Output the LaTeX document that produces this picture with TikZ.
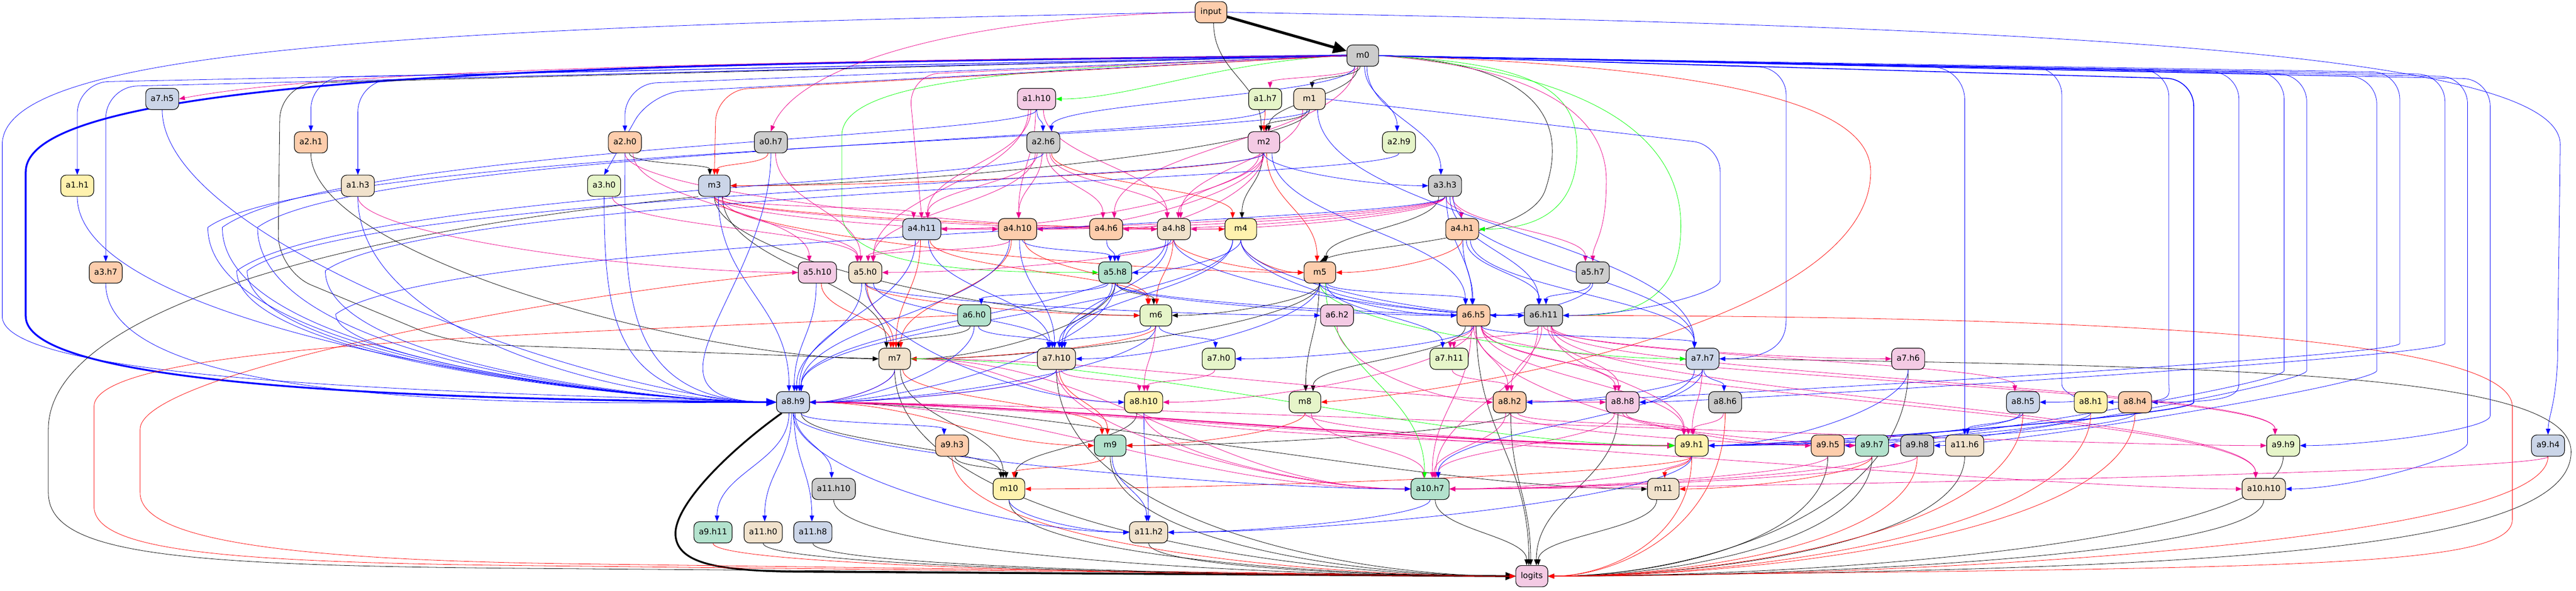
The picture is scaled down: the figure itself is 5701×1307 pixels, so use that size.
\documentclass[tikz,border=0pt]{standalone}
\usepackage{fontspec}
\setmainfont{DejaVu Sans}
\usetikzlibrary{arrows.meta,calc}
\pgfdeclarelayer{bg}
\pgfsetlayers{bg,main}
\definecolor{pOr}{HTML}{FDCDAC}
\definecolor{pGr}{HTML}{B3E2CD}
\definecolor{pBl}{HTML}{CBD5E8}
\definecolor{pPk}{HTML}{F4CAE4}
\definecolor{pLg}{HTML}{E6F5C9}
\definecolor{pYe}{HTML}{FFF2AE}
\definecolor{pTn}{HTML}{F1E2CC}
\definecolor{pGy}{HTML}{CCCCCC}
\tikzset{
  nd/.style={draw=black, line width=1.3pt, rounded corners=12pt, minimum width=70pt, minimum height=47pt, inner xsep=11pt, inner ysep=2pt, text height=13pt, text depth=3.5pt, font=\fontsize{18}{21}\selectfont},
  ea/.style={line width=0.9pt, -{Triangle[length=13pt,width=10pt]}},
  eB/.style={ea, draw=blue},
  eBm/.style={ea, draw=blue, line width=1.8pt},
  eQ/.style={ea, draw=magenta},
  eQt/.style={ea, draw=magenta, line width=2.6pt, -{Triangle[length=17pt,width=13pt]}},
  eG/.style={ea, draw=green},
  eR/.style={ea, draw=red},
  eK/.style={ea, draw=black},
}
\newcommand\Nd[5]{\node[nd,fill=#4] (#1) at (#2,#3) {#5};}
\newcommand\EdN[3]{\draw[#1] let \p1=(#2.south), \p2=(#3.north), \n1={max(25,0.45*(\y1-\y2))}, \n2={max(-18,min(18,0.05*(\x1-\x2)))}, \n3={max(-18,min(18,0.05*(\x2-\x1)))} in (\x1+\n3,\y1) .. controls (\x1+\n3,\y1-\n1) and (\x2+\n2,\y2+\n1) .. (\x2+\n2,\y2);}
\newcommand\EdE[3]{\draw[#1] let \p1=(#2.south), \p2=(#3.west), \n1={max(20,0.5*(\y1-\y2))}, \n2={max(60,min(400,0.35*abs(\x2-\x1)))} in (\p1) .. controls (\x1,\y1-\n1) and (\x2-\n2,\y2) .. (\p2);}
\newcommand\EdW[3]{\draw[#1] let \p1=(#2.south), \p2=(#3.east), \n1={max(20,0.5*(\y1-\y2))}, \n2={max(60,min(400,0.35*abs(\x2-\x1)))} in (\p1) .. controls (\x1,\y1-\n1) and (\x2+\n2,\y2) .. (\p2);}
\newcommand\EdEe[3]{\draw[#1] let \p1=(#2.east), \p2=(#3.west), \n2={max(60,min(500,0.4*abs(\x2-\x1)))} in (\p1) .. controls (\x1+\n2,\y1) and (\x2-\n2,\y2) .. (\p2);}
\newcommand\FanN[5]{\draw[#1,rounded corners=70pt] (#2) -- (#4,#5) -- (#3.north);}
\newcommand\FanE[6]{\draw[#1,rounded corners=60pt] (#2) -- (#4,#5) -- (#4,#6) .. controls (#4,#6+90) and ($(#3.east)+(150,0)$) .. (#3.east);}
\newcommand\IntoW[2]{\draw[#1] (#2.south) .. controls +(0,300) and +(-350,0) .. (a8h9.west);}
\newcommand\IntoWf[3]{\draw[#1] let \p1=(#2.south) in (\p1) .. controls (\x1,\y1-60pt) and (#3pt+250pt,\y1-80pt) .. (#3pt,\y1-260pt) .. controls (#3pt,-800pt) and (1450pt,-890pt) .. (a8h9.west);}
\newcommand\ToLL[2]{\draw[#1] let \p1=(#2.south), \p2=(logits.west), \n1={0.7*(\y1-\y2)}, \n2={0.4*(\x2-\x1)} in (\p1) .. controls (\x1,\y1-\n1) and (\x2-\n2,\y2) .. (\p2);}
\newcommand\ToLR[2]{\draw[#1] let \p1=(#2.south), \p2=(logits.east), \n1={0.7*(\y1-\y2)}, \n2={0.4*(\x1-\x2)} in (\p1) .. controls (\x1,\y1-\n1) and (\x2+\n2,\y2) .. (\p2);}
\begin{document}
\begin{tikzpicture}[x=1pt,y=-1pt]
\begin{pgfonlayer}{bg}\fill[white] (0,0) rectangle (5701,1307);\end{pgfonlayer}
\useasboundingbox (0,0) rectangle (5701,1307);
% ---------------- nodes
\Nd{input}{2680}{27}{pOr}{input}
\Nd{m0}{3016}{123}{pGy}{m0}
\Nd{a7h5}{359}{219}{pBl}{a7.h5}
\Nd{a1h10}{2294}{219}{pPk}{a1.h10}
\Nd{a1h7}{2800}{219}{pLg}{a1.h7}
\Nd{m1}{2898}{219}{pTn}{m1}
\Nd{a2h1}{688}{315}{pOr}{a2.h1}
\Nd{a2h0}{1383}{315}{pOr}{a2.h0}
\Nd{a0h7}{1706}{315}{pGy}{a0.h7}
\Nd{a2h6}{2309}{315}{pGy}{a2.h6}
\Nd{m2}{2797}{315}{pPk}{m2}
\Nd{a2h9}{3096}{315}{pLg}{a2.h9}
\Nd{a1h1}{171}{411}{pYe}{a1.h1}
\Nd{a1h3}{792}{411}{pTn}{a1.h3}
\Nd{a3h0}{1337}{411}{pLg}{a3.h0}
\Nd{m3}{1581}{411}{pBl}{m3}
\Nd{a3h3}{3198}{411}{pGy}{a3.h3}
\Nd{a4h11}{2040}{507}{pBl}{a4.h11}
\Nd{a4h10}{2252}{507}{pOr}{a4.h10}
\Nd{a4h6}{2448}{507}{pOr}{a4.h6}
\Nd{a4h8}{2598}{507}{pTn}{a4.h8}
\Nd{m4}{2746}{507}{pYe}{m4}
\Nd{a4h1}{3236}{507}{pOr}{a4.h1}
\Nd{a3h7}{234}{603}{pOr}{a3.h7}
\Nd{a5h10}{1809}{603}{pPk}{a5.h10}
\Nd{a5h0}{1915}{603}{pTn}{a5.h0}
\Nd{a5h8}{2468}{603}{pGr}{a5.h8}
\Nd{m5}{2921}{603}{pOr}{m5}
\Nd{a5h7}{3525}{603}{pGy}{a5.h7}
\Nd{a6h0}{2156}{698}{pGr}{a6.h0}
\Nd{m6}{2558}{698}{pLg}{m6}
\Nd{a6h2}{2959}{698}{pPk}{a6.h2}
\Nd{a6h5}{3261}{698}{pOr}{a6.h5}
\Nd{a6h11}{3416}{698}{pGy}{a6.h11}
\Nd{m7}{1980}{794}{pTn}{m7}
\Nd{a7h10}{2338}{794}{pTn}{a7.h10}
\Nd{a7h0}{2697}{794}{pLg}{a7.h0}
\Nd{a7h11}{3207}{794}{pLg}{a7.h11}
\Nd{a7h7}{3768}{794}{pBl}{a7.h7}
\Nd{a7h6}{4223}{794}{pPk}{a7.h6}
\Nd{a8h9}{1755}{890}{pBl}{a8.h9}
\Nd{a8h10}{2531}{890}{pYe}{a8.h10}
\Nd{m8}{2888}{890}{pLg}{m8}
\Nd{a8h2}{3341}{890}{pOr}{a8.h2}
\Nd{a8h8}{3591}{890}{pPk}{a8.h8}
\Nd{a8h6}{3818}{890}{pGy}{a8.h6}
\Nd{a8h5}{4477}{890}{pBl}{a8.h5}
\Nd{a8h1}{4627}{890}{pYe}{a8.h1}
\Nd{a8h4}{4725}{890}{pOr}{a8.h4}
\Nd{a9h3}{2107}{986}{pOr}{a9.h3}
\Nd{m9}{2457}{986}{pGr}{m9}
\Nd{a9h1}{3744}{986}{pYe}{a9.h1}
\Nd{a9h5}{4045}{986}{pOr}{a9.h5}
\Nd{a9h7}{4143}{986}{pGr}{a9.h7}
\Nd{a9h8}{4243}{986}{pGy}{a9.h8}
\Nd{a11h6}{4348}{986}{pTn}{a11.h6}
\Nd{a9h9}{5053}{986}{pLg}{a9.h9}
\Nd{a9h4}{5639}{986}{pBl}{a9.h4}
\Nd{a11h10}{1845}{1082}{pGy}{a11.h10}
\Nd{m10}{2233}{1082}{pYe}{m10}
\Nd{a10h7}{3165}{1082}{pGr}{a10.h7}
\Nd{m11}{3681}{1082}{pTn}{m11}
\Nd{a10h10}{5010}{1082}{pTn}{a10.h10}
\Nd{a9h11}{1578}{1178}{pGr}{a9.h11}
\Nd{a11h0}{1689}{1178}{pTn}{a11.h0}
\Nd{a11h8}{1799}{1178}{pBl}{a11.h8}
\Nd{a11h2}{2542}{1178}{pTn}{a11.h2}
\Nd{logits}{3390}{1275}{pPk}{logits}
% ---------------- edges
\begin{pgfonlayer}{bg}
% special long / thick
\draw[eK, line width=6pt, -{Triangle[length=30pt,width=26pt]}] (input) -- (m0);
\draw[eB, line width=4pt, -{Triangle[length=22pt,width=17pt]}] (m0.west) .. controls (1500,140) and (57,150) .. (57,380) -- (57,700) .. controls (57,860) and (1000,885) .. (a8h9.west);
\draw[eK, line width=4pt, -{Triangle[length=22pt,width=17pt]}] ($(a8h9.south)+(-25,0)$) .. controls (1610,1000) and (1490,1120) .. (1495,1185) .. controls (1500,1250) and (1600,1262) .. (1750,1265) -- (logits.west);
\draw[eQ] (input.west) .. controls (2100,40) and (1760,150) .. (a0h7.north);
\draw[eB] (input.west) .. controls (900,60) and (5,110) .. (5,320) -- (5,700) .. controls (5,850) and (1100,870) .. (a8h9.west);
\draw[eB] (input.east) .. controls (4600,60) and (5666,120) .. (5666,320) -- (5660,800) .. controls (5655,900) and (5640,920) .. (a9h4.north);
\draw[eQ] (m0.west) .. controls (1500,135) and (700,160) .. (a7h5.east);
\draw[eG] (m0.west) .. controls (2700,135) and (2500,219) .. (a1h10.east);
\draw[eG] (m0.west) .. controls (2300,150) and (1863,170) .. (1863,300) -- (1863,470) .. controls (1863,600) and (2200,603) .. (a5h8.west);
\draw[eK,rounded corners=80pt] (m0.west) -- (620,185) -- (615,600) -- (1000,760) -- (m7.west);
\draw[eK] (m0.east) .. controls (3450,140) and (3460,300) .. (3420,420) .. controls (3380,540) and (3000,540) .. (m5.north);
\draw[eR] (m0.east) .. controls (3900,150) and (4140,250) .. (4140,380) .. controls (4140,700) and (3300,860) .. (m8.east);
\draw[eG] (m0.east) .. controls (3400,140) and (3490,200) .. (3490,330) .. controls (3490,480) and (3380,507) .. (a4h1.east);
\draw[eG] (m0.east) .. controls (3520,160) and (3720,300) .. (3720,500) .. controls (3720,700) and (3560,698) .. (a6h11.east);
\draw[eQ] (m0.east) .. controls (3400,150) and (3555,250) .. (3555,400) .. controls (3555,520) and (3525,540) .. (a5h7.north);
\draw[eK] (m3.south west) .. controls (700,520) and (107,700) .. (107,950) -- (107,1090) .. controls (107,1230) and (400,1252) .. (1200,1258) -- (logits.west);
\draw[eR] (a6h0.west) .. controls (1200,740) and (208,760) .. (208,900) -- (208,1120) .. controls (208,1220) and (500,1245) .. (1200,1252) -- (logits.west);
\draw[eR] (a5h10.west) .. controls (1300,640) and (310,820) .. (310,950) -- (310,1090) .. controls (310,1190) and (600,1240) .. (1300,1248) -- (logits.west);
\draw[eK] (a7h7.east) .. controls (5000,810) and (5690,830) .. (5690,1000) .. controls (5690,1230) and (4800,1262) .. (logits.east);
\draw[eR] (a6h11.east) .. controls (4600,700) and (5560,740) .. (5560,900) -- (5560,1150) .. controls (5560,1262) and (5000,1255) .. (logits.east);
% m0 fans
\FanN{eB}{m0.west}{a1h1}{171}{182}
\FanN{eB}{m0.west}{a3h7}{234}{192}
\FanN{eB}{m0.west}{a2h1}{688}{172}
\FanN{eB}{m0.west}{a1h3}{792}{178}
\FanN{eB}{m0.west}{a2h0}{1383}{186}
\FanN{eB}{m0.west}{a3h0}{1440}{205}
\FanN{eR}{m0.west}{m3}{1585}{200}
\FanN{eQ}{m0.west}{a4h11}{2010}{165}
\FanE{eB}{m0.east}{a7h7}{3953}{150}{640}
\FanE{eB}{m1.east}{a6h11}{3807}{320}{560}
\FanE{eB}{m0.east}{a8h5}{4563}{150}{790}
\FanE{eB}{m0.east}{a8h1}{4800}{155}{790}
\FanE{eBm}{m0.east}{a9h1}{4855}{175}{830}
\FanE{eB}{m0.east}{a8h4}{4955}{160}{790}
\FanE{eB}{m0.east}{a9h5}{5055}{160}{760}
\FanE{eB}{m0.east}{a9h7}{5105}{165}{760}
\FanE{eB}{m0.east}{a9h8}{5260}{170}{760}
\FanE{eB}{m0.east}{a8h2}{5311}{160}{700}
\FanE{eB}{m0.east}{a8h8}{5411}{165}{700}
\FanE{eB}{m0.east}{a10h10}{5461}{170}{920}
\FanE{eB}{m0.east}{a9h9}{5511}{175}{860}
\FanN{eB}{m0.east}{a11h6}{4348}{150}
% black
\EdN{eK}{input}{m2}
\EdN{eK}{m0}{m2}
\EdN{eK}{m1}{m2}
\EdN{eK}{m0}{m1}
\EdN{eK}{a2h0}{m3}
\EdW{eK}{m1}{m3}
\EdN{eK}{m2}{m4}
\EdN{eK}{a3h3}{m5}
\EdN{eK}{a5h8}{m6}
\EdW{eK}{m5}{m6}
\EdE{eK}{m3}{m6}
\EdN{eK}{a6h0}{m7}
\EdN{eK}{m3}{m7}
\EdW{eK}{m5}{m7}
\EdW{eK}{a5h8}{m7}
\EdE{eK}{a2h1}{m7}
\EdN{eK}{m5}{m8}
\EdN{eK}{a6h5}{m8}
\EdW{eK}{a8h2}{m9}
\EdN{eK}{a8h9}{m10}
\EdN{eK}{a9h3}{m10}
\EdN{eK}{a8h10}{m10}
\EdN{eK}{m7}{m10}
\EdEe{eK}{a8h9}{m11}
\EdN{eK}{a10h7}{logits}
\EdN{eK}{a8h2}{logits}
\EdN{eK}{a8h8}{logits}
\EdN{eK}{m11}{logits}
\EdN{eK}{a6h5}{logits}
\ToLL{eK}{a11h2}
\ToLL{eK}{m9}
\ToLL{eK}{m10}
\ToLL{eK}{a11h10}
\ToLL{eK}{a11h8}
\ToLL{eK}{a11h0}
\ToLL{eK}{a7h10}
\ToLL{eK}{m7}
\ToLR{eK}{a9h5}
\ToLR{eK}{a9h7}
\ToLR{eK}{a11h6}
\ToLR{eK}{a9h9}
\ToLR{eK}{a10h10}
\ToLR{eK}{a7h6}
% red
\EdN{eR}{a1h7}{m2}
\EdN{eR}{a0h7}{m3}
\EdW{eR}{m2}{m3}
\EdN{eR}{a2h6}{m4}
\EdE{eR}{m3}{m4}
\EdE{eR}{m4}{m5}
\EdE{eR}{a4h8}{m5}
\EdN{eR}{m2}{m5}
\EdW{eR}{a4h1}{m5}
\EdE{eR}{m3}{m5}
\EdE{eR}{a5h0}{m6}
\EdN{eR}{a4h10}{m6}
\EdN{eR}{a4h11}{m6}
\EdN{eR}{a4h8}{m6}
\EdN{eR}{a5h10}{m7}
\EdN{eR}{a5h0}{m7}
\EdN{eR}{a4h11}{m7}
\EdN{eR}{a4h10}{m7}
\EdW{eR}{m6}{m7}
\EdN{eR}{a7h10}{m9}
\EdEe{eR}{a8h9}{m9}
\EdN{eR}{m7}{m9}
\EdW{eR}{m8}{m9}
\EdN{eR}{m9}{m10}
\EdW{eR}{a9h1}{m10}
\EdN{eR}{a9h1}{m11}
\EdW{eR}{a9h7}{m11}
\ToLL{eR}{a9h11}
\ToLL{eR}{a9h3}
\ToLR{eR}{a9h1}
\ToLR{eR}{a9h8}
\ToLR{eR}{a9h4}
\ToLR{eR}{a8h5}
\ToLR{eR}{a8h1}
\ToLR{eR}{a8h4}
\ToLR{eR}{a8h6}
% magenta
\EdN{eQ}{m0}{a1h7}
\EdN{eQ}{a1h10}{a4h11}
\EdN{eQ}{a2h6}{a4h11}
\EdW{eQ}{m2}{a4h11}
\EdW{eQ}{a3h3}{a4h11}
\EdN{eQ}{m3}{a4h11}
\EdN{eQ}{a1h10}{a4h10}
\EdN{eQ}{a2h6}{a4h10}
\EdE{eQ}{m3}{a4h10}
\EdW{eQ}{m2}{a4h10}
\EdW{eQ}{a3h3}{a4h10}
\EdN{eQ}{a2h6}{a4h6}
\EdN{eQ}{m0}{a4h6}
\EdW{eQ}{m2}{a4h6}
\EdW{eQ}{a3h3}{a4h6}
\EdN{eQ}{a1h10}{a4h8}
\EdN{eQ}{a2h6}{a4h8}
\EdE{eQ}{m3}{a4h8}
\EdE{eQ}{a2h0}{a4h8}
\EdN{eQ}{m2}{a4h8}
\EdW{eQ}{a3h3}{a4h8}
\EdN{eQ}{m1}{a4h8}
\EdN{eQ}{a3h3}{a4h1}
\EdE{eQ}{a1h3}{a5h10}
\EdN{eQ}{a2h0}{a5h10}
\EdN{eQ}{a0h7}{a5h0}
\EdN{eQ}{a3h0}{a5h0}
\EdN{eQ}{m3}{a5h0}
\EdN{eQ}{a4h11}{a5h0}
\EdN{eQ}{a4h10}{a5h0}
\EdW{eQ}{a4h8}{a5h0}
\EdN{eQ}{a1h10}{a5h0}
\EdN{eQ}{a2h6}{a5h0}
\EdN{eQ}{a3h3}{a5h7}
\EdN{eQ}{a6h5}{a7h11}
\EdN{eQ}{a6h11}{a7h11}
\EdE{eQ}{a6h11}{a7h6}
\EdN{eQ}{a7h10}{a8h10}
\EdN{eQ}{m6}{a8h10}
\EdN{eQ}{a7h0}{a8h10}
\EdW{eQ}{a6h5}{a8h10}
\EdEe{eQ}{m7}{a8h10}
\EdN{eQ}{a7h11}{a8h2}
\EdN{eQ}{a6h5}{a8h2}
\EdN{eQ}{a6h11}{a8h2}
\EdE{eQ}{a6h2}{a8h2}
\EdN{eQ}{a6h5}{a8h8}
\EdN{eQ}{a6h11}{a8h8}
\EdEe{eQ}{m7}{a8h8}
\EdN{eQ}{a6h11}{a8h5}
\EdN{eQ}{a8h2}{a9h1}
\EdN{eQ}{a8h8}{a9h1}
\EdN{eQ}{a8h6}{a9h1}
\EdN{eQ}{a7h7}{a9h1}
\EdN{eQ}{a6h11}{a9h1}
\EdN{eQ}{a6h5}{a9h1}
\EdE{eQ}{m8}{a9h1}
\EdEe{eQt}{a8h9}{a9h1}
\EdE{eQ}{a8h10}{a9h1}
\EdE{eQ}{a6h5}{a9h5}
\EdE{eQ}{a8h2}{a9h7}
\EdE{eQ}{a8h8}{a9h8}
\EdN{eQ}{a6h11}{a9h9}
\EdN{eQ}{a6h5}{a9h9}
\EdEe{eQ}{a8h9}{a9h9}
\EdEe{eQ}{a8h9}{a10h7}
\EdN{eQ}{m8}{a10h7}
\EdN{eQ}{a8h2}{a10h7}
\EdN{eQ}{a8h8}{a10h7}
\EdN{eQ}{a6h5}{a10h7}
\EdN{eQ}{a6h11}{a10h7}
\EdW{eQ}{a9h1}{a10h7}
\EdE{eQ}{a7h10}{a10h7}
\EdEe{eQ}{m7}{a10h7}
\EdE{eQ}{a8h10}{a10h7}
\EdW{eQ}{a9h5}{a10h7}
\EdW{eQ}{a9h7}{a10h7}
\EdW{eQ}{a9h8}{a10h7}
\EdW{eQ}{a9h4}{a10h7}
\EdEe{eQ}{a8h9}{a10h10}
\EdN{eQ}{a6h11}{a10h10}
\EdN{eQ}{a6h5}{a10h10}
\EdW{eQ}{a7h10}{a8h9}
\EdW{eQ}{m7}{a8h9}
% green
\EdE{eG}{m5}{a7h7}
\EdEe{eG}{m7}{a9h1}
\EdN{eG}{m5}{a10h7}
% blue
\EdN{eB}{m0}{a2h6}
\EdN{eB}{m0}{a2h9}
\EdN{eB}{m0}{a3h3}
\EdE{eB}{m2}{a3h3}
\EdN{eB}{a1h10}{a2h6}
\EdN{eB}{a4h10}{a5h8}
\EdN{eB}{a4h8}{a5h8}
\EdW{eB}{m4}{a5h8}
\EdN{eB}{a4h6}{a5h8}
\EdN{eB}{a5h8}{a6h0}
\EdE{eB}{a5h0}{a6h2}
\EdN{eB}{a4h1}{a6h5}
\EdN{eB}{a3h3}{a6h5}
\EdW{eB}{a5h7}{a6h5}
\EdN{eB}{m5}{a6h5}
\EdE{eB}{m4}{a6h5}
\EdE{eB}{a5h8}{a6h5}
\EdN{eB}{m2}{a6h5}
\EdN{eB}{a4h1}{a6h11}
\EdN{eB}{a3h3}{a6h11}
\EdN{eB}{a5h7}{a6h11}
\EdE{eB}{m5}{a6h11}
\EdE{eB}{m4}{a6h11}
\EdE{eB}{a5h8}{a6h11}
\EdE{eB}{a4h8}{a6h11}
\EdN{eB}{a4h11}{a7h10}
\EdN{eB}{a4h10}{a7h10}
\EdN{eB}{a5h0}{a7h10}
\EdN{eB}{a6h0}{a7h10}
\EdN{eB}{m6}{a7h10}
\EdN{eB}{a5h8}{a7h10}
\EdW{eB}{m5}{a7h10}
\EdN{eB}{m4}{a7h10}
\EdN{eB}{a4h8}{a7h10}
\EdN{eB}{m6}{a7h0}
\EdW{eB}{a6h5}{a7h0}
\EdN{eB}{m5}{a7h11}
\EdN{eB}{a4h1}{a7h7}
\EdN{eB}{a3h3}{a7h7}
\EdN{eB}{a6h5}{a7h7}
\EdN{eB}{m1}{a7h7}
\IntoW{eB}{a7h5}
\IntoW{eB}{a1h1}
\IntoW{eB}{a3h7}
\IntoW{eB}{a1h3}
\IntoW{eB}{a3h0}
\IntoW{eB}{a2h0}
\IntoW{eB}{a0h7}
\IntoWf{eB}{m1}{460}
\IntoWf{eB}{a1h10}{492}
\IntoWf{eB}{a2h6}{524}
\IntoWf{eB}{m2}{547}
\IntoWf{eB}{a1h7}{570}
\IntoWf{eB}{a2h9}{720}
\IntoWf{eB}{a3h3}{743}
\EdN{eB}{m3}{a8h9}
\EdN{eB}{a4h11}{a8h9}
\EdN{eB}{a4h10}{a8h9}
\EdN{eB}{a4h8}{a8h9}
\EdN{eB}{m4}{a8h9}
\EdN{eB}{a5h10}{a8h9}
\EdN{eB}{a5h0}{a8h9}
\EdW{eB}{m7}{a8h9}
\EdW{eB}{a6h0}{a8h9}
\EdW{eB}{a7h10}{a8h9}
\EdW{eB}{m6}{a8h9}
\EdW{eB}{a5h8}{a8h9}
\EdE{eB}{a5h0}{a8h10}
\EdW{eB}{a7h7}{a8h2}
\EdW{eB}{a7h7}{a8h8}
\EdN{eB}{a7h7}{a8h6}
\EdN{eB}{a8h9}{a9h3}
\EdW{eB}{a8h5}{a9h1}
\EdW{eB}{a8h1}{a9h1}
\EdW{eB}{a8h4}{a9h1}
\EdW{eB}{a7h6}{a9h1}
\EdN{eB}{a8h5}{a11h6}
\EdN{eB}{a8h9}{a11h10}
\EdN{eB}{a8h9}{a9h11}
\EdN{eB}{a8h9}{a11h0}
\EdN{eB}{a8h9}{a11h8}
\EdE{eB}{a8h9}{a10h7}
\EdN{eB}{a7h7}{a10h7}
\EdE{eB}{a8h9}{a11h2}
\EdN{eB}{m9}{a11h2}
\EdN{eB}{a8h10}{a11h2}
\EdE{eB}{m10}{a11h2}
\EdW{eB}{a9h1}{a11h2}
\EdW{eB}{a10h7}{a11h2}
\end{pgfonlayer}
\end{tikzpicture}
\end{document}
